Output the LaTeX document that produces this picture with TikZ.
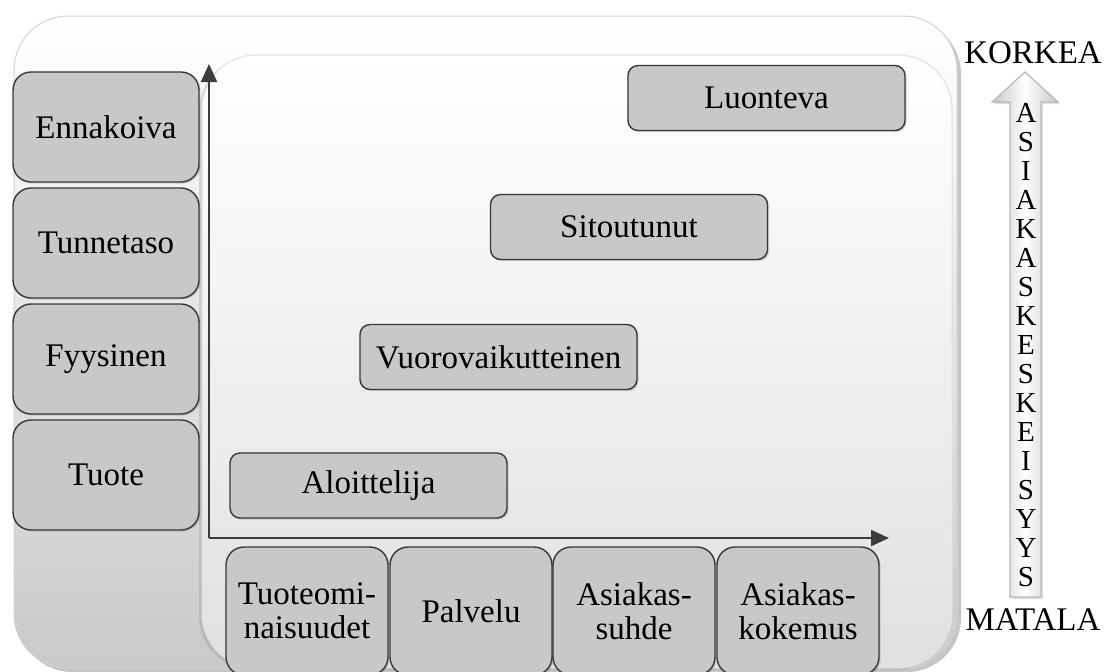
\documentclass[tikz,border=0pt]{standalone}
\usepackage{fontspec}
\setmainfont{Liberation Serif}
\usetikzlibrary{arrows.meta,shadows}
\definecolor{boxgray}{RGB}{200,200,200}
\definecolor{edgegray}{RGB}{55,55,55}
\definecolor{axisgray}{RGB}{60,60,60}
\begin{document}
\begin{tikzpicture}[x=0.5pt,y=-0.5pt,
  font=\fontsize{16.5}{17}\selectfont,
  gbox/.style={draw=edgegray, line width=0.7pt, fill=boxgray, inner sep=0pt,
    align=center, drop shadow={shadow xshift=0.8pt, shadow yshift=-0.8pt, opacity=0.3}},
  sidebox/.style={gbox, rounded corners=9pt, minimum width=93pt, minimum height=55pt},
  basebox/.style={gbox, rounded corners=9pt, minimum width=81pt, minimum height=64pt},
  levelbox/.style={gbox, rounded corners=5pt, minimum width=138.5pt, minimum height=32.5pt},
  axisline/.style={draw=axisgray, line width=1pt, -{Triangle[width=8pt,length=9pt]}},
  plain/.style={inner sep=0pt}
]
\clip (0,0) rectangle (1106,671);

% background panels
\path[draw=gray!35, line width=0.5pt, top color=white, bottom color=gray!42,
  rounded corners=27pt,
  drop shadow={shadow xshift=2pt, shadow yshift=-2pt, opacity=0.45}]
  (14,16) rectangle (957,668);
\path[draw=gray!25, line width=0.5pt, top color=white, bottom color=gray!24,
  rounded corners=27pt,
  drop shadow={shadow xshift=-1.5pt, shadow yshift=-1pt, opacity=0.25}]
  (202,55) rectangle (952,668);

% left column
\node[sidebox] (enn) at (106,127) {Ennakoiva};
\node[sidebox] (tun) at (106,243) {Tunnetaso};
\node[sidebox] (fyy) at (106,359) {Fyysinen};
\node[sidebox] (tuo) at (106,475) {Tuote};

% axes
\coordinate (origin) at (209,538);
\coordinate (ytip) at (209,64);
\coordinate (xtip) at (889,538);
\draw[axisline] (origin) -- (ytip);
\draw[axisline] (origin) -- (xtip);

% levels
\node[levelbox] (alo) at (368.5,485.5) {Aloittelija};
\node[levelbox] (vuo) at (498.5,357) {Vuorovaikutteinen};
\node[levelbox] (sit) at (629,227) {Sitoutunut};
\node[levelbox] (luo) at (766.5,98) {Luonteva};

% bottom row
\node[basebox] (tom) at (307,611) {Tuoteomi-\\naisuudet};
\node[basebox] (pal) at (471,611) {Palvelu};
\node[basebox] (ash) at (634,611) {Asiakas-\\suhde};
\node[basebox] (ask) at (798,611) {Asiakas-\\kokemus};

% customer-centricity arrow
\draw[draw=gray!55, line width=0.6pt, left color=gray!45, right color=gray!45, middle color=white,
  drop shadow={shadow xshift=1pt, shadow yshift=-1pt, opacity=0.25}]
  (1025,72) -- (1058,102) -- (1041,102) -- (1041,597) -- (1010,597) -- (1010,102) -- (992,102) -- cycle;
\node[plain, align=center, font=\fontsize{14.5}{14.5}\selectfont] (word) at (1026,345)
  {A\\S\\I\\A\\K\\A\\S\\K\\E\\S\\K\\E\\I\\S\\Y\\Y\\S};
\node[plain] (high) at (1033,53) {KORKEA};
\node[plain] (low) at (1033,620) {MATALA};
\end{tikzpicture}
\end{document}
